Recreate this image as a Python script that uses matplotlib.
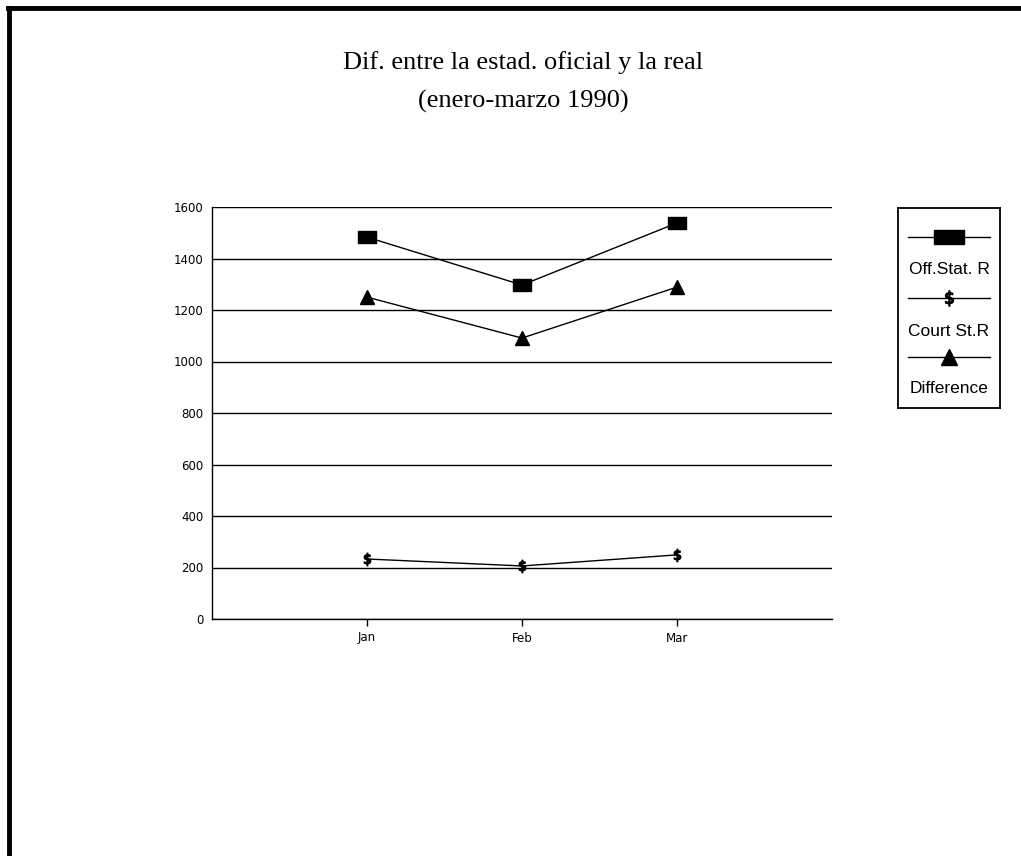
import matplotlib
matplotlib.use("Agg")
import matplotlib.pyplot as plt
from matplotlib.path import Path
from matplotlib.lines import Line2D
import numpy as np

months = ["Jan", "Feb", "Mar"]
off_stat = [1483, 1297, 1538]
court_st = [233, 206, 249]
difference = [1250, 1091, 1289]
yticks = [0, 200, 400, 600, 800, 1000, 1200, 1400, 1600]
series_labels = ["Off.Stat. R", "Court St.R", "Difference"]

W, H = 1021, 856
fig = plt.figure(figsize=(W / 100, H / 100), dpi=100)

# outer frame (top and left edges visible)
fig.add_artist(Line2D([8 / W, 1.0], [1 - 8 / H, 1 - 8 / H], color="black", lw=3.5, transform=fig.transFigure))
fig.add_artist(Line2D([9 / W, 9 / W], [0, 1 - 8 / H], color="black", lw=3.5, transform=fig.transFigure))

fig.text(523 / W, 1 - 63 / H, "Dif. entre la estad. oficial y la real", ha="center", va="center",
         fontsize=19, family="Liberation Serif")
fig.text(523 / W, 1 - 101 / H, "(enero-marzo 1990)", ha="center", va="center",
         fontsize=19, family="Liberation Serif")

def rect_path(aspect):
    return Path([(-aspect, -1), (aspect, -1), (aspect, 1), (-aspect, 1), (-aspect, -1)],
                [Path.MOVETO, Path.LINETO, Path.LINETO, Path.LINETO, Path.CLOSEPOLY])

rect_marker = rect_path(1.5)
rect_marker_leg = rect_path(2.2)

ax = fig.add_axes([212 / W, 1 - 619 / H, 620 / W, 412 / H])
x = np.arange(len(months))
for v in yticks:
    ax.axhline(v, color="black", lw=1.0, zorder=1)
ax.plot(x, off_stat, color="black", lw=1.0, marker=rect_marker, markersize=13, zorder=3)
ax.plot(x, court_st, color="black", lw=1.0, marker=r"$\$$", markersize=9, zorder=3)
ax.plot(x, difference, color="black", lw=1.0, marker="^", markersize=10, zorder=3)

ax.set_xlim(-1, 3)
ax.set_ylim(0, 1600)
ax.set_xticks(x)
ax.set_xticklabels(months)
ax.set_yticks(yticks)
ax.set_yticklabels([str(v) for v in yticks])
for s in ["top", "right"]:
    ax.spines[s].set_visible(False)
ax.spines["left"].set_linewidth(1.0)
ax.spines["bottom"].set_linewidth(1.0)
ax.tick_params(axis="both", labelsize=8.5, length=5, width=1, colors="black", pad=4)
ax.tick_params(axis="y", length=0, pad=6)
ax.patch.set_alpha(0)

# legend box
lax = fig.add_axes([898 / W, 1 - 408 / H, 102 / W, 200 / H])
lax.set_xlim(0, 1)
lax.set_ylim(0, 1)
lax.set_xticks([])
lax.set_yticks([])
for s in lax.spines.values():
    s.set_linewidth(1.3)
markers = [(rect_marker_leg, 22), (r"$\$$", 11), ("^", 12)]
line_y = [(408 - 237) / 200, (408 - 298) / 200, (408 - 357) / 200]
text_y = [(408 - 270) / 200, (408 - 332) / 200, (408 - 389) / 200]
for (m, ms), ly, ty, lab in zip(markers, line_y, text_y, series_labels):
    lax.plot([0.1, 0.9], [ly, ly], color="black", lw=1.0)
    lax.plot([0.5], [ly], color="black", marker=m, markersize=ms)
    lax.text(0.5, ty, lab, ha="center", va="center", fontsize=12.5,
             family=["Liberation Sans Narrow", "Liberation Sans"])

fig.savefig("out.png", dpi=100, facecolor="white")
